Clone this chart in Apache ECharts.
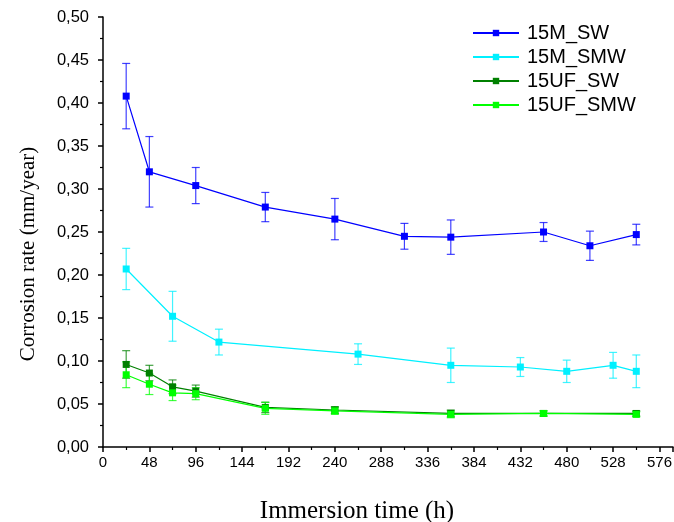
<!DOCTYPE html>
<html>
<head>
<meta charset="utf-8">
<script src="https://cdn.jsdelivr.net/npm/echarts@6/dist/echarts.min.js"></script>
<style>html,body{margin:0;padding:0;background:#fff;}#c{width:674px;height:522px;}</style>
</head>
<body>
<div id="c"></div>
<script>
var seriesNames = ['15M_SW', '15M_SMW', '15UF_SW', '15UF_SMW'];
var timesMSW = [24, 48, 96, 168, 240, 312, 360, 456, 504, 552];
var valMSW = [0.408, 0.320, 0.304, 0.279, 0.265, 0.245, 0.244, 0.250, 0.234, 0.247];
var errMSW = [0.038, 0.041, 0.021, 0.017, 0.024, 0.015, 0.020, 0.011, 0.017, 0.012];
var timesMSMW = [24, 72, 120, 264, 360, 432, 480, 528, 552];
var valMSMW = [0.207, 0.152, 0.122, 0.108, 0.095, 0.093, 0.088, 0.095, 0.088];
var errMSMW = [0.024, 0.029, 0.015, 0.012, 0.020, 0.011, 0.013, 0.015, 0.019];
var timesUF = [24, 48, 72, 96, 168, 240, 360, 456, 552];
var valUFSW = [0.096, 0.086, 0.070, 0.065, 0.046, 0.043, 0.039, 0.039, 0.039];
var errUFSW = [0.016, 0.009, 0.008, 0.007, 0.006, 0.004, 0.004, 0.003, 0.003];
var valUFSMW = [0.084, 0.073, 0.063, 0.062, 0.045, 0.042, 0.038, 0.039, 0.038];
var errUFSMW = [0.015, 0.012, 0.009, 0.007, 0.007, 0.004, 0.004, 0.003, 0.003];
var colors = ['#0000FF', '#00F0FF', '#008000', '#00FF00'];

var groups = [
  [timesMSW, valMSW, errMSW],
  [timesMSMW, valMSMW, errMSMW],
  [timesUF, valUFSW, errUFSW],
  [timesUF, valUFSMW, errUFSMW]
];

function pts(t, v) { return t.map(function (x, i) { return [x, v[i]]; }); }
function errs(t, v, e) { return t.map(function (x, i) { return [x, v[i] - e[i], v[i] + e[i]]; }); }

var series = [];
groups.forEach(function (g, k) {
  series.push({
    name: seriesNames[k] + '_err',
    type: 'custom',
    data: errs(g[0], g[1], g[2]),
    z: 2,
    silent: true,
    renderItem: function (params, api) {
      var x = api.value(0);
      var lo = api.coord([x, api.value(1)]);
      var hi = api.coord([x, api.value(2)]);
      var w = 4;
      var st = { stroke: colors[k], lineWidth: 1.2, opacity: 0.75 };
      return {
        type: 'group',
        children: [
          { type: 'line', shape: { x1: lo[0], y1: lo[1], x2: hi[0], y2: hi[1] }, style: st },
          { type: 'line', shape: { x1: lo[0] - w, y1: lo[1], x2: lo[0] + w, y2: lo[1] }, style: st },
          { type: 'line', shape: { x1: hi[0] - w, y1: hi[1], x2: hi[0] + w, y2: hi[1] }, style: st }
        ]
      };
    }
  });
  series.push({
    name: seriesNames[k],
    type: 'line',
    data: pts(g[0], g[1]),
    symbol: 'rect',
    symbolSize: 7,
    z: 3,
    lineStyle: { color: colors[k], width: 1.2 },
    itemStyle: { color: colors[k] },
    emphasis: { disabled: true }
  });
});

var chart = echarts.init(document.getElementById('c'));
chart.setOption({
  animation: false,
  backgroundColor: '#fff',
  grid: { left: 103, right: 1, top: 17, bottom: 75, containLabel: false, outerBoundsMode: 'none' },
  legend: {
    data: seriesNames,
    orient: 'vertical',
    left: 467,
    top: 18,
    itemWidth: 46,
    itemHeight: 8,
    itemGap: 4,
    textStyle: { fontFamily: 'Liberation Sans', fontSize: 20, color: '#000', padding: [0, 0, 0, 3] }
  },
  xAxis: {
    type: 'value',
    min: 0,
    max: 590,
    interval: 48,
    name: 'Immersion time (h)',
    nameLocation: 'middle',
    nameGap: 52,
    nameTextStyle: { fontFamily: 'Liberation Serif', fontSize: 25, color: '#000', padding: [0, 62, 0, 0] },
    axisLine: { show: true, lineStyle: { color: '#000', width: 1.5 } },
    axisTick: { show: true, inside: false, length: 5, lineStyle: { color: '#000', width: 1.5 } },
    minorTick: { show: true, splitNumber: 2, length: 3, lineStyle: { color: '#000', width: 1.2 } },
    splitLine: { show: false },
    axisLabel: {
      fontFamily: 'Liberation Sans', fontSize: 15, color: '#000', margin: 8,
      showMaxLabel: false,
      formatter: function (v) { return (v % 48 === 0) ? String(v) : ''; }
    }
  },
  yAxis: {
    type: 'value',
    min: 0,
    max: 0.5,
    interval: 0.05,
    name: 'Corrosion rate (mm/year)',
    nameLocation: 'middle',
    nameGap: 64,
    nameRotate: 90,
    nameTextStyle: { fontFamily: 'Liberation Serif', fontSize: 21, color: '#000', padding: [0, 44, 0, 0] },
    axisLine: { show: true, lineStyle: { color: '#000', width: 1.5 } },
    axisTick: { show: true, inside: false, length: 5, lineStyle: { color: '#000', width: 1.5 } },
    minorTick: { show: true, splitNumber: 2, length: 3, lineStyle: { color: '#000', width: 1.2 } },
    splitLine: { show: false },
    axisLabel: {
      fontFamily: 'Liberation Sans', fontSize: 16.5, color: '#000', margin: 14,
      formatter: function (v) { return v.toFixed(2).replace('.', ','); }
    }
  },
  series: series
});
</script>
</body>
</html>
